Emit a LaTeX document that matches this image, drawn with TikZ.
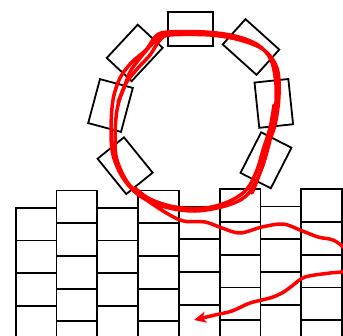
\documentclass[tikz,border=0pt]{standalone}
\usetikzlibrary{arrows.meta}
\begin{document}
\begin{tikzpicture}[x=1pt,y=-1pt,
  seg/.style={draw=black, line width=1.8pt, minimum width=45.5pt, minimum height=34pt, inner sep=0pt, fill=white},
  cell/.style={draw=black, line width=1.8pt},
  scribble/.style={draw=red, line width=3.5pt, line cap=round, line join=round}]
\useasboundingbox (0,0) rectangle (343,335);
\clip (0,0) rectangle (343,335);
% brick grid
\foreach \xl/\yt in {15.7/207.7, 56.5/190.5, 97.3/207.7, 138.1/190.5, 178.9/206.5, 219.7/189.3, 260.5/206.5, 301.3/189.3} {
  \foreach \k in {0,...,4} {
    \draw[cell] (\xl, {\yt+\k*32.7}) rectangle ++(40.8, 32.7);
  }
}
% ring of segments
\node[seg, rotate=0]   (top) at (190.5, 28.7) {};
\node[seg, rotate=47]  (ul)  at (134.7, 52.9) {};
\node[seg, rotate=-42] (ur)  at (251, 47) {};
\node[seg, rotate=75]  (l)   at (110.5, 105.5) {};
\node[seg, rotate=-84] (r)   at (273.8, 103.4) {};
\node[seg, rotate=-51] (ll)  at (125.1, 165.7) {};
\node[seg, rotate=63]  (lr)  at (266, 160.3) {};
% red scribble
\draw[scribble] plot[smooth, tension=0.6] coordinates {
 (135,188) (150,199) (175,207) (205,208) (230,201) (247,189) (257,170) (263,150) (270,128) (274,105)};
\draw[scribble] plot[smooth, tension=0.6] coordinates {
 (162,35) (152,44) (140,58) (130,72) (124,88) (118,102)};
\draw[scribble, -{Stealth[length=12pt, width=11pt, inset=3pt]}] plot[smooth, tension=0.55] coordinates {
 (252,193) (263,165) (270,140) (275,115) (276,85) (271,60) (258,45) (235,36) (205,32) (168,32) (156,36) (146,50) (132,62) (120,78) (113,100) (111,130) (113,155) (123,178) (140,196) (165,207) (195,211) (225,206) (246,196) (259,175) (266,150) (275,125) (279,95) (277,68) (264,50) (240,40) (210,35) (170,35) (160,40) (150,55) (138,68) (125,85) (117,110) (115,140) (117,160) (128,183) (148,201) (180,220) (205,222) (222,228) (240,233) (262,227) (283,224) (300,230) (318,237) (333,240) (344,248) (352,260) (344,271) (330,273) (305,277) (292,286) (282,293) (270,298) (250,303) (232,311) (215,315) (194,320)};
\end{tikzpicture}
\end{document}
